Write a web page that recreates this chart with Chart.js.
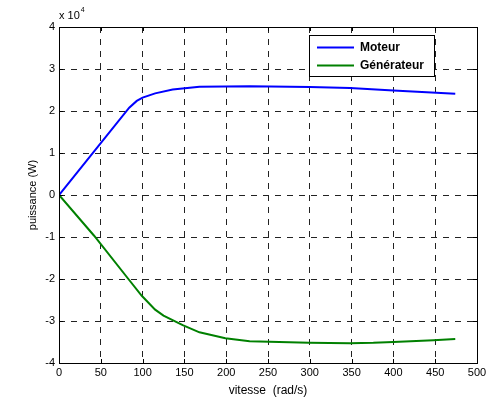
<!DOCTYPE html>
<html>
<head>
<meta charset="utf-8">
<script src="https://cdn.jsdelivr.net/npm/chart.js@4/dist/chart.umd.min.js"></script>
<style>
  body { margin: 0; background: #fff; }
  canvas { display: block; }
</style>
</head>
<body>
<canvas id="chart" width="501" height="399"></canvas>
<script>
// speed (rad/s) and power (W)
const motorSpeed = [0, 84, 93, 100, 115, 136, 168, 228, 300, 348, 400, 474];
const motorPower = [0, 20800, 22400, 23200, 24200, 25100, 25800, 25900, 25700, 25500, 24900, 24100];

const genSpeed = [0, 42, 83, 99, 115, 125, 148, 168, 199, 228, 299, 348, 376, 400, 448, 474];
const genPower = [0, -9700, -20000, -24000, -27300, -28700, -31000, -32700, -34100, -34800, -35200, -35300, -35200, -35000, -34600, -34300];

const seriesLabels = ['Moteur', 'Générateur'];
const seriesColors = ['#0000ff', '#008000'];

const xTicks = [0, 50, 100, 150, 200, 250, 300, 350, 400, 450, 500];
const yTicks = [-40000, -30000, -20000, -10000, 0, 10000, 20000, 30000, 40000];

const toPoints = (xs, ys) => xs.map((x, i) => ({ x: x, y: ys[i] }));

const font = { family: 'Arial, "Liberation Sans", sans-serif', size: 11 };
const titleFont = { family: 'Arial, "Liberation Sans", sans-serif', size: 12 };

// frame, inward ticks, exponent label and legend box
const matlabLook = {
    id: 'matlabLook',
    afterDraw(chart) {
        const ctx = chart.ctx;
        const a = chart.chartArea;
        const xs = chart.scales.x, ys = chart.scales.y;
        ctx.save();
        ctx.strokeStyle = '#000';
        ctx.lineWidth = 1;
        ctx.setLineDash([]);
        ctx.strokeRect(Math.round(a.left) + 0.5, Math.round(a.top) + 0.5,
            Math.round(a.right - a.left), Math.round(a.bottom - a.top));

        ctx.beginPath();
        xTicks.forEach(v => {
            const px = Math.round(xs.getPixelForValue(v)) + 0.5;
            ctx.moveTo(px, a.bottom); ctx.lineTo(px, a.bottom - 4);
            ctx.moveTo(px, a.top); ctx.lineTo(px, a.top + 4);
        });
        yTicks.forEach(v => {
            const py = Math.round(ys.getPixelForValue(v)) + 0.5;
            ctx.moveTo(a.left, py); ctx.lineTo(a.left + 4, py);
            ctx.moveTo(a.right, py); ctx.lineTo(a.right - 4, py);
        });
        ctx.stroke();

        // x 10^4
        ctx.fillStyle = '#000';
        ctx.textBaseline = 'alphabetic';
        ctx.textAlign = 'left';
        ctx.font = '11px Arial, "Liberation Sans", sans-serif';
        ctx.fillText('x 10', a.left, 19);
        const w = ctx.measureText('x 10').width;
        ctx.font = '7px Arial, "Liberation Sans", sans-serif';
        ctx.fillText('4', a.left + w + 1, 12);

        // legend
        const bx = 309.5, by = 35.5, bw = 125, bh = 41;
        ctx.fillStyle = '#fff';
        ctx.fillRect(bx, by, bw, bh);
        ctx.strokeStyle = '#000';
        ctx.strokeRect(bx, by, bw, bh);
        ctx.font = 'bold 12px Arial, "Liberation Sans", sans-serif';
        ctx.textBaseline = 'middle';
        chart.data.datasets.forEach((ds, i) => {
            const ly = 47.5 + i * 18;
            ctx.strokeStyle = ds.borderColor;
            ctx.lineWidth = 2;
            ctx.beginPath();
            ctx.moveTo(317, ly); ctx.lineTo(354, ly);
            ctx.stroke();
            ctx.fillStyle = '#000';
            ctx.fillText(ds.label, 360, ly + 0.5);
        });
        ctx.restore();
    }
};

new Chart(document.getElementById('chart'), {
    type: 'scatter',
    data: {
        datasets: [
            {
                label: seriesLabels[0],
                data: toPoints(motorSpeed, motorPower),
                borderColor: seriesColors[0],
                backgroundColor: seriesColors[0],
                showLine: true,
                borderWidth: 2,
                pointRadius: 0,
                tension: 0
            },
            {
                label: seriesLabels[1],
                data: toPoints(genSpeed, genPower),
                borderColor: seriesColors[1],
                backgroundColor: seriesColors[1],
                showLine: true,
                borderWidth: 2,
                pointRadius: 0,
                tension: 0
            }
        ]
    },
    options: {
        responsive: false,
        animation: false,
        layout: { padding: { left: 0, right: 24, top: 27, bottom: 0 } },
        plugins: {
            legend: { display: false },
            tooltip: { enabled: false }
        },
        scales: {
            x: {
                type: 'linear',
                min: 0,
                max: 500,
                afterBuildTicks: s => { s.ticks = xTicks.map(v => ({ value: v })); },
                afterFit: s => { s.height = 36; },
                ticks: { color: '#000', font: font, padding: 3, maxRotation: 0 },
                grid: { color: '#222', lineWidth: 1, drawTicks: false },
                border: { display: false, dash: [6, 6] },
                title: {
                    display: true,
                    text: 'vitesse  (rad/s)',
                    color: '#000',
                    font: titleFont,
                    padding: { top: 0, bottom: 1 }
                }
            },
            y: {
                type: 'linear',
                min: -40000,
                max: 40000,
                afterBuildTicks: s => { s.ticks = yTicks.map(v => ({ value: v })); },
                afterFit: s => { s.width = 59; },
                ticks: {
                    color: '#000',
                    font: font,
                    padding: 4,
                    callback: v => String(v / 10000)
                },
                grid: { color: '#222', lineWidth: 1, drawTicks: false },
                border: { display: false, dash: [6, 6] },
                title: {
                    display: true,
                    text: 'puissance (W)',
                    color: '#000',
                    font: font,
                    padding: { top: 26, bottom: 0 }
                }
            }
        }
    },
    plugins: [matlabLook]
});
</script>
</body>
</html>
